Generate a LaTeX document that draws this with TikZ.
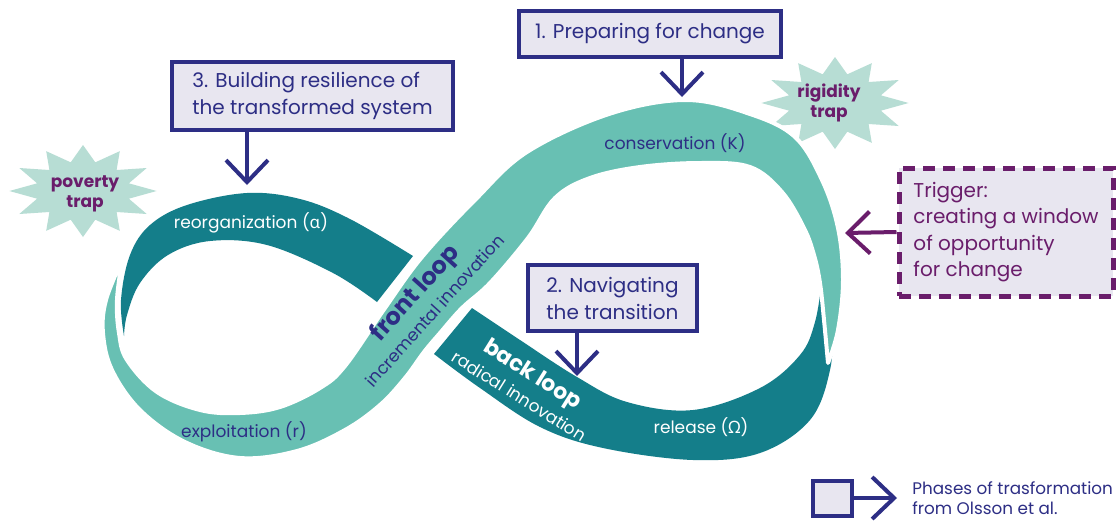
\documentclass[tikz,border=0pt]{standalone}
\usepackage{fontspec}
\setmainfont{Poppins}
\newfontfamily\greekfont{Noto Sans}
\usetikzlibrary{arrows.meta,shapes.geometric}

\definecolor{frontteal}{HTML}{68C0B3}
\definecolor{backteal}{HTML}{147E8A}
\definecolor{trapmint}{HTML}{B7DDD4}
\definecolor{phasenavy}{HTML}{2D2E85}
\definecolor{triggerplum}{HTML}{6A1D6B}
\definecolor{boxlilac}{HTML}{E8E6F0}

\begin{document}
\begin{tikzpicture}[x=0.5pt, y=-0.5pt,
    phase/.style={draw=phasenavy, line width=2pt, fill=boxlilac, text=phasenavy,
        align=left, inner sep=0pt, font=\fontsize{10}{13.5}\selectfont},
    phasearrow/.style={draw=phasenavy, line width=2pt, -{Straight Barb[length=11pt,width=21pt]}},
    trapstar/.style={star, star points=12, star point ratio=1.55, fill=trapmint,
        minimum size=46pt, inner sep=0pt, xscale=1.6},
    traptext/.style={text=triggerplum, font=\bfseries\fontsize{8.5}{9.8}\selectfont, align=center},
    onlight/.style={text=phasenavy, font=\fontsize{8.5}{10}\selectfont},
    ondark/.style={text=white, font=\fontsize{8.5}{10}\selectfont}]

    \useasboundingbox (0,0) rectangle (1119,520);
    \fill [white] (0,0) rectangle (1119,520);

    % the two traps
    \node [trapstar] (povstar) at (83,191) {};
    \node [traptext] (povtxt) at (85,194) {poverty\\trap};
    \node [trapstar] (rigstar) at (835,103) {};
    \node [traptext] (rigtxt) at (829,103) {rigidity\\trap};

    % back loop, in two pieces
    \fill [backteal] plot [smooth, tension=0.6] coordinates {(124,336) (121,300) (130,255) (150,225) (187,205) (247,193) (300,199) (350,219) (413,256)}
        -- plot [smooth, tension=0.6] coordinates {(377,302) (333,273) (267,245) (210,241) (168,255) (140,283) (127,315) (124,336)} -- cycle;
    \fill [backteal] plot [smooth, tension=0.6] coordinates {(472,308) (520,340) (577,377) (627,402) (693,410) (760,388) (800,355) (815,322) (822,280)}
        -- plot [smooth, tension=0.6] coordinates {(826,292) (832,322) (830,370) (810,420) (760,453) (693,460) (603,448) (540,427) (480,388) (434,354)} -- cycle;

    % front loop on top
    \filldraw [fill=frontteal, draw=white, line width=2pt, line join=round]
        plot [smooth, tension=0.6] coordinates {(122,260) (117,300) (119,333) (127,360) (157,392) (200,410) (240,413) (280,407) (320,388) (345,366) (385,308) (422,257) (475,200) (527,152) (609,114) (686,100) (750,114) (795,137) (822,180) (838,228) (843,280) (838,330) (828,363)}
        -- plot [smooth, tension=0.6] coordinates {(828,363) (824,320) (820,283) (814,255) (804,228) (782,192) (750,167) (700,163) (640,167) (590,178) (555,198) (528,238) (490,283) (462,308) (440,333) (424,352) (405,378) (380,405) (345,430) (297,451) (240,458) (185,442) (140,410) (112,370) (103,333) (106,300) (122,260)} -- cycle;

    \node [onlight] (consK) at (675,143) {conservation (K)};
    \node [onlight] (exploit) at (244,432) {exploitation (r)};
    \node [ondark] (reorg) at (251,223) {reorganization ({\greekfont α})};
    \node [ondark] (release) at (701,427) {release ({\greekfont Ω})};
    \node [onlight, rotate=48, align=center] (frontlbl) at (423,300)
        {{\bfseries\fontsize{12}{12}\selectfont front loop}\\[2.5pt]incremental innovation};
    \node [ondark, rotate=-32, align=center] (backlbl) at (527,384)
        {{\bfseries\fontsize{11}{11}\selectfont back loop}\\[2.5pt]radical innovation};

    % phases
    \node [phase, minimum width=131pt, minimum height=23pt] (prep) at (650,34) {1. Preparing for change};
    \node [phase, minimum width=140.5pt, minimum height=34pt] (build) at (312.5,96) {3. Building resilience of\\the transformed system};
    \node [phase, minimum width=84.5pt, minimum height=33pt] (navig) at (612.5,298) {2. Navigating\\the transition};

    \coordinate (kpoint) at (682,97);
    \draw [phasearrow] (prep.south -| kpoint) -- (kpoint);
    \coordinate (alphapoint) at (247,185);
    \draw [phasearrow] (build.south -| alphapoint) -- (alphapoint);
    \coordinate (backpoint) at (577,376);
    \draw [phasearrow] (navig.south -| backpoint) -- (backpoint);

    % trigger
    \node [draw=triggerplum, line width=2.5pt, dash pattern=on 6pt off 4pt, fill=boxlilac,
        text=triggerplum, align=left, minimum width=107pt, minimum height=64pt,
        font=\fontsize{10}{13.3}\selectfont] (trigger) at (1006,232)
        {Trigger:\\creating a window\\of opportunity\\for change};
    \coordinate (windowpoint) at (845,233);
    \draw [phasearrow, draw=triggerplum] (trigger.west) -- (windowpoint);

    % legend
    \node [phase, minimum width=19.5pt, minimum height=17.5pt] (legbox) at (832,498) {};
    \coordinate (legpoint) at (897,498);
    \draw [phasearrow] (legbox.east) -- (legpoint);
    \node [anchor=west, inner sep=0pt, text=phasenavy, align=left, font=\fontsize{8.4}{10}\selectfont] (legtxt) at (912,498)
        {Phases of trasformation\\from Olsson et al.};

\end{tikzpicture}
\end{document}
